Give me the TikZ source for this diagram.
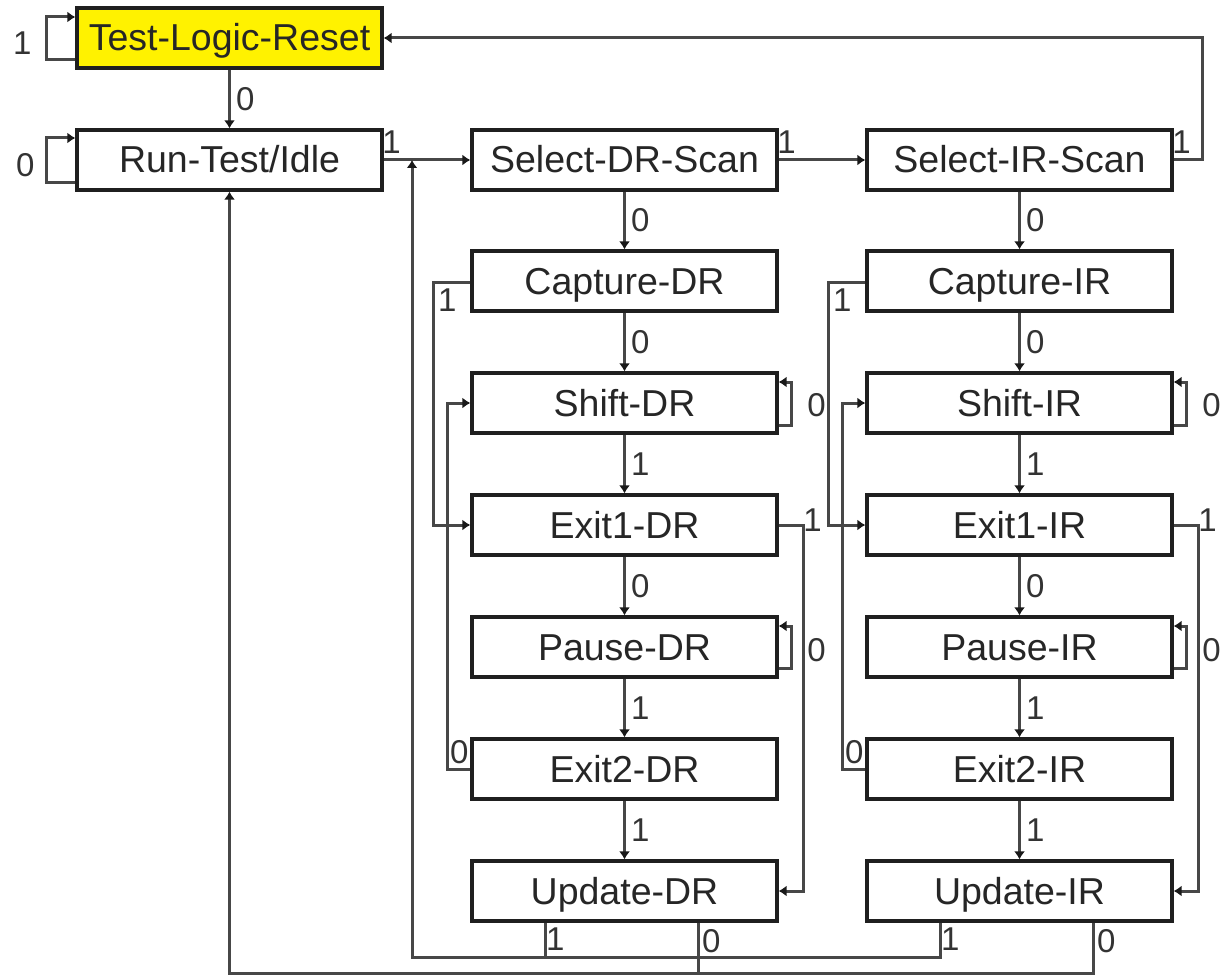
\documentclass[tikz,border=0pt]{standalone}
\usepackage{fontspec}
\setmainfont{Liberation Sans}
\usetikzlibrary{arrows.meta,calc}
\begin{document}
\begin{tikzpicture}[x=1pt,y=-1pt,
 st/.style={draw=black!88,line width=3.2pt,fill=white,minimum width=305pt,minimum height=60pt,inner sep=0pt,text height=26pt,text depth=-8pt,font=\fontsize{37.5}{37.5}\selectfont,text=black!85},
 ln/.style={draw=black!72,line width=3pt},
 arr/.style={ln,-{Latex[length=8pt,width=11pt,color=black!90]}},
 lbl/.style={inner sep=0pt,font=\fontsize{33}{33}\selectfont,text=black!80}]
\useasboundingbox (0,0) rectangle (1222,976);
\fill[white] (0,0) rectangle (1222,976);
\node[st,fill=yellow] (tlr) at (229.5,38) {Test-Logic-Reset};
\node[st] (rti) at (229.5,160) {Run-Test/Idle};
\node[st] (seldr) at (624.5,160) {Select-DR-Scan};
\node[st] (selir) at (1019.5,160) {Select-IR-Scan};
\coordinate (jn) at (412,160);
\foreach \c/\x/\L in {dr/624.5/DR, ir/1019.5/IR}{
  \node[st] (cap\c) at (\x,281) {Capture-\L};
  \node[st] (sh\c) at (\x,403) {Shift-\L};
  \node[st] (ea\c) at (\x,525) {Exit1-\L};
  \node[st] (p\c) at (\x,647) {Pause-\L};
  \node[st] (eb\c) at (\x,769) {Exit2-\L};
  \node[st] (u\c) at (\x,891) {Update-\L};
  \draw[arr] (sel\c) -- node[lbl,right=5pt]{0} (cap\c);
  \draw[arr] (cap\c) -- node[lbl,right=5pt]{0} (sh\c);
  \draw[arr] (sh\c) -- node[lbl,right=5pt]{1} (ea\c);
  \draw[arr] (ea\c) -- node[lbl,right=5pt]{0} (p\c);
  \draw[arr] (p\c) -- node[lbl,right=5pt]{1} (eb\c);
  \draw[arr] (eb\c) -- node[lbl,right=5pt]{1} (u\c);
  \draw[arr] ($(cap\c.west)+(0,1)$) -- ++(-37,0) |- (ea\c.west);
  \node[lbl] at ($(cap\c.west)+(-23,19)$) {1};
  \draw[arr] (eb\c.west) -- ++(-23,0) |- (sh\c.west);
  \node[lbl] at ($(eb\c.west)+(-11,-17)$) {0};
  \draw[arr] ($(sh\c.east)+(0,22)$) -- ++(13,0) |- ($(sh\c.east)+(0,-21)$);
  \node[lbl] at ($(sh\c.east)+(38,2)$) {0};
  \draw[arr] ($(p\c.east)+(0,21)$) -- ++(13,0) |- ($(p\c.east)+(0,-21)$);
  \node[lbl] at ($(p\c.east)+(38,3)$) {0};
  \draw[arr] (ea\c.east) -- ++(25,0) |- (u\c.east);
  \node[lbl] at ($(ea\c.east)+(34,-5)$) {1};
  \coordinate (uo\c) at ($(u\c.south west)+(75,0)$);
  \coordinate (uz\c) at ($(u\c.south west)+(228,0)$);
  \node[lbl] at ($(uo\c)+(10,17)$) {1};
  \node[lbl] at ($(uz\c)+(13,19)$) {0};
}
\draw[arr] (tlr) -- node[lbl,right=5pt]{0} (rti);
\draw[arr] (rti) -- (seldr);
\node[lbl] at ($(rti.north east)+(8,14)$) {1};
\draw[arr] (seldr) -- (selir);
\node[lbl] at ($(seldr.north east)+(8,14)$) {1};
\draw[arr] (selir.east) -- ++(29,0) |- (tlr.east);
\node[lbl] at ($(selir.north east)+(8,14)$) {1};
\draw[arr] ($(tlr.west)+(0,22)$) -- ++(-29,0) |- ($(tlr.west)+(0,-21)$);
\node[lbl] at ($(tlr.west)+(-53,5)$) {1};
\draw[arr] ($(rti.west)+(0,23)$) -- ++(-29,0) |- ($(rti.west)+(0,-22)$);
\node[lbl] at ($(rti.west)+(-50,5)$) {0};
\draw[arr] (uoir) -- ++(0,35) -| (jn);
\draw[ln] (uodr) -- ++(0,35);
\draw[arr] (uzir) -- ++(0,51) -| (rti.south);
\draw[ln] (uzdr) -- ++(0,51);
\end{tikzpicture}
\end{document}
